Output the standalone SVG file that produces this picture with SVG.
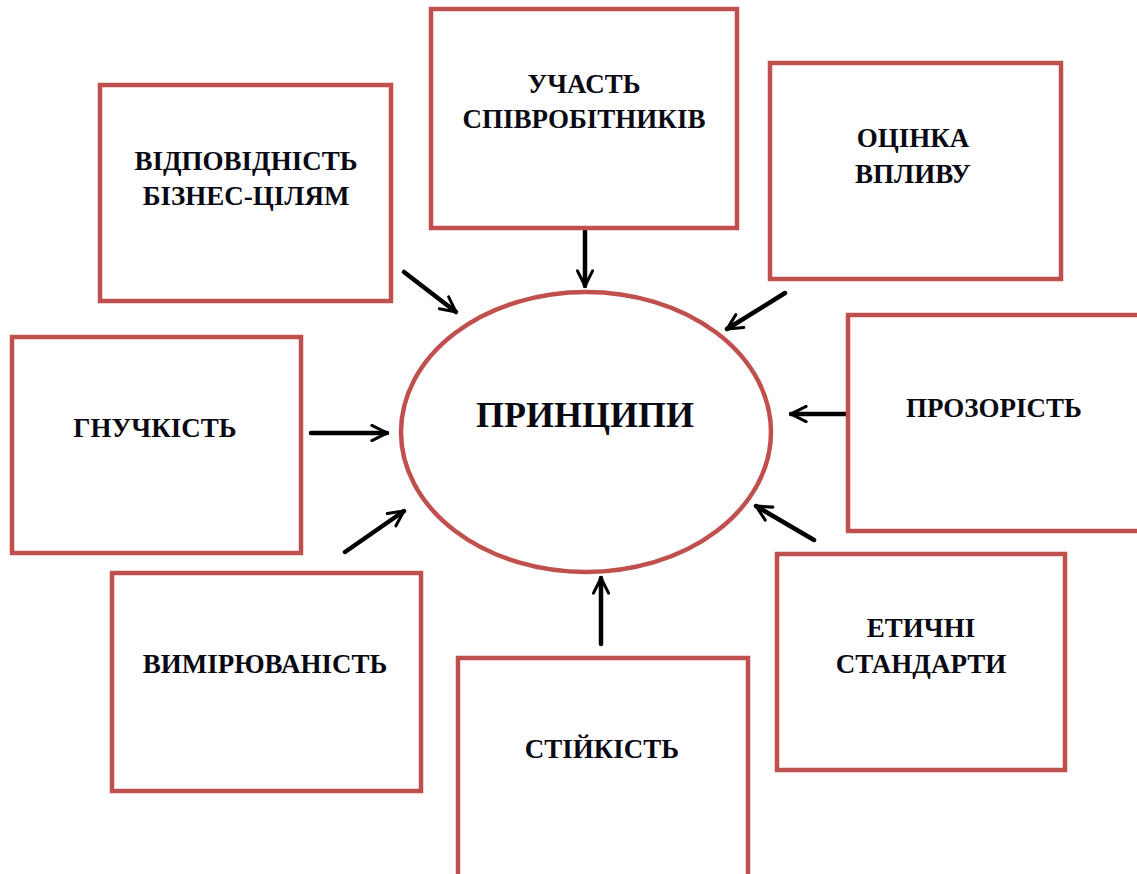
<svg xmlns="http://www.w3.org/2000/svg" width="1137" height="874" viewBox="0 0 1137 874">
<defs>
<style>
.box{fill:#fff;stroke:#c0504d;stroke-width:4.5}
.lbl{font-family:"Liberation Serif","Times New Roman","DejaVu Serif",serif;font-weight:bold;font-size:27px;fill:#0a0a14;text-anchor:middle}
.big{font-size:36px}
.arr{stroke:#000;stroke-width:4.5;fill:none;stroke-linecap:round;marker-end:url(#ah)}
</style>
<marker id="ah" viewBox="0 0 10 10" refX="9" refY="5" markerWidth="4.2" markerHeight="4.2" orient="auto" markerUnits="strokeWidth">
<path d="M1,1 L9,5 L1,9" fill="none" stroke="#000" stroke-width="1.6" stroke-linecap="round" stroke-linejoin="miter"/>
</marker>
</defs>
<rect width="1137" height="874" fill="#fff"/>
<g id="connectors">
<line class="arr" x1="585" y1="231" x2="585" y2="286"/>
<line class="arr" x1="404" y1="272" x2="456" y2="312"/>
<line class="arr" x1="785" y1="293" x2="727" y2="329"/>
<line class="arr" x1="847" y1="414" x2="791" y2="414"/>
<line class="arr" x1="814" y1="540" x2="756" y2="506"/>
<line class="arr" x1="601" y1="644" x2="601" y2="578"/>
<line class="arr" x1="345" y1="552" x2="404" y2="511"/>
<line class="arr" x1="311" y1="433" x2="387" y2="433"/>
</g>
<g id="center">
<ellipse cx="586" cy="432" rx="185" ry="140" fill="#fff" stroke="#c0504d" stroke-width="4.5"/>
<text class="lbl big" x="585" y="427">ПРИНЦИПИ</text>
</g>
<g id="n-vidpovidnist">
<rect class="box" x="100" y="85" width="291" height="216"/>
<text class="lbl" x="246" y="170">ВІДПОВІДНІСТЬ</text>
<text class="lbl" x="246" y="205">БІЗНЕС-ЦІЛЯМ</text>
</g>
<g id="n-uchast">
<rect class="box" x="431" y="9" width="306" height="219"/>
<text class="lbl" x="584" y="93">УЧАСТЬ</text>
<text class="lbl" x="584" y="128">СПІВРОБІТНИКІВ</text>
</g>
<g id="n-otsinka">
<rect class="box" x="770" y="63" width="291" height="216"/>
<text class="lbl" x="913" y="147">ОЦІНКА</text>
<text class="lbl" x="913" y="183">ВПЛИВУ</text>
</g>
<g id="n-hnuchkist">
<rect class="box" x="12" y="337" width="289" height="216"/>
<text class="lbl" x="155" y="437">ГНУЧКІСТЬ</text>
</g>
<g id="n-prozorist">
<rect class="box" x="848" y="315" width="292" height="216"/>
<text class="lbl" x="994" y="417">ПРОЗОРІСТЬ</text>
</g>
<g id="n-vymiriuvanist">
<rect class="box" x="112" y="573" width="309" height="218"/>
<text class="lbl" x="265" y="673">ВИМІРЮВАНІСТЬ</text>
</g>
<g id="n-etychni">
<rect class="box" x="777" y="554" width="288" height="216"/>
<text class="lbl" x="921" y="637">ЕТИЧНІ</text>
<text class="lbl" x="921" y="673">СТАНДАРТИ</text>
</g>
<g id="n-stiikist">
<rect class="box" x="458" y="658" width="290" height="230"/>
<text class="lbl" x="602" y="758">СТІЙКІСТЬ</text>
</g>
</svg>
